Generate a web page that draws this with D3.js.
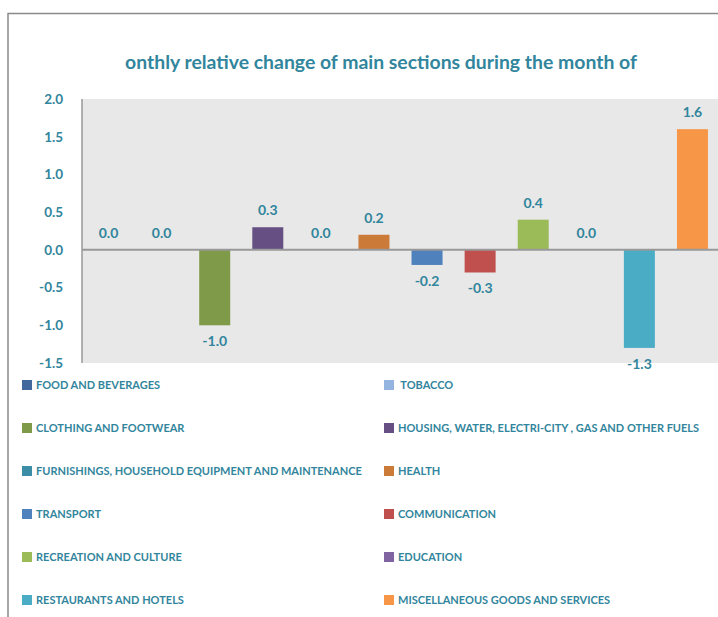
<!DOCTYPE html>
<html>
<head>
<meta charset="utf-8">
<script src="https://cdn.jsdelivr.net/npm/d3@7"></script>
<style>
  body { margin: 0; background: #fff; }
  svg { display: block; font-family: Lato, "Open Sans", sans-serif; }
</style>
</head>
<body>
<div id="chart"></div>
<script>
// Monthly relative change of main sections

const categories = [
    'FOOD AND BEVERAGES',
    ' TOBACCO',
    'CLOTHING AND FOOTWEAR',
    'HOUSING, WATER, ELECTRI-CITY , GAS AND OTHER FUELS',
    'FURNISHINGS, HOUSEHOLD EQUIPMENT AND MAINTENANCE',
    'HEALTH',
    'TRANSPORT',
    'COMMUNICATION',
    'RECREATION AND CULTURE',
    'EDUCATION',
    'RESTAURANTS AND HOTELS',
    'MISCELLANEOUS GOODS AND SERVICES'
];
const values = [0.0, 0.0, -1.0, 0.3, 0.0, 0.2, -0.2, -0.3, 0.4, 0.0, -1.3, 1.6];
const colors = ['#41699d', '#93b5e0', '#7f9a48', '#664f83', '#3b8ea5', '#cc7a38',
    '#4f81bd', '#c0504d', '#9bbb59', '#8064a2', '#4bacc6', '#f79646'];
const yTicks = [2.0, 1.5, 1.0, 0.5, 0.0, -0.5, -1.0, -1.5];
const title = 'onthly relative change of main sections during the month of';

const W = 718, H = 617;
const teal = '#31859c';
const plot = { left: 82, right: 719, top: 99, bottom: 363 };
const fmt = d => d.toFixed(1);   // keep the plain hyphen of the original

const svg = d3.select('#chart').append('svg')
    .attr('width', W)
    .attr('height', H);

// outer frame (only top and left edges are visible)
svg.append('path')
    .attr('d', `M8,${H} V13.5 H${W}`)
    .attr('fill', 'none')
    .attr('stroke', '#8a8a8a')
    .attr('stroke-width', 1.5);

// title
svg.append('text')
    .attr('x', 381)
    .attr('y', 69)
    .attr('text-anchor', 'middle')
    .attr('fill', teal)
    .style('font-size', '19.4px')
    .style('font-weight', 'bold')
    .text(title);

// scales
const x = d3.scaleBand()
    .domain(categories)
    .range([plot.left, plot.right])
    .paddingInner(0.416)
    .paddingOuter(0.208);

const y = d3.scaleLinear()
    .domain([-1.5, 2])
    .range([plot.bottom, plot.top]);

// plot background
svg.append('rect')
    .attr('x', plot.left)
    .attr('y', plot.top)
    .attr('width', plot.right - plot.left)
    .attr('height', plot.bottom - plot.top)
    .attr('fill', '#e8e8e8');

// y axis labels
const yAxis = svg.append('g')
    .attr('transform', `translate(${plot.left},0)`)
    .call(d3.axisLeft(y).tickValues(yTicks).tickFormat(fmt).tickSize(0).tickPadding(19));
yAxis.select('.domain').remove();
yAxis.selectAll('text')
    .attr('fill', teal)
    .style('font-family', 'Lato, "Open Sans", sans-serif')
    .style('font-size', '13.5px')
    .style('font-weight', 'bold');

// bars
svg.selectAll('.bar')
    .data(values)
    .enter().append('rect')
    .attr('class', 'bar')
    .attr('x', (d, i) => x(categories[i]))
    .attr('width', x.bandwidth())
    .attr('y', d => y(Math.max(0, d)))
    .attr('height', d => Math.abs(y(d) - y(0)))
    .attr('fill', (d, i) => colors[i]);

// y axis line and zero line
svg.append('line')
    .attr('x1', plot.left).attr('x2', plot.left)
    .attr('y1', plot.top).attr('y2', plot.bottom)
    .attr('stroke', '#999').attr('stroke-width', 1.5);
svg.append('line')
    .attr('x1', plot.left).attr('x2', plot.right)
    .attr('y1', y(0)).attr('y2', y(0))
    .attr('stroke', '#999').attr('stroke-width', 2);

// value labels
svg.selectAll('.val')
    .data(values)
    .enter().append('text')
    .attr('class', 'val')
    .attr('x', (d, i) => x(categories[i]) + x.bandwidth() / 2)
    .attr('y', d => d < 0 ? y(d) + 21 : y(d) - 12)
    .attr('text-anchor', 'middle')
    .attr('fill', teal)
    .style('font-size', '14px')
    .style('font-weight', 'bold')
    .text(fmt);

// legend, two columns
const legend = svg.append('g');
const items = legend.selectAll('g')
    .data(categories)
    .enter().append('g')
    .attr('transform', (d, i) => `translate(${i % 2 ? 384 : 22},${380 + Math.floor(i / 2) * 43})`);
items.append('rect')
    .attr('width', 10)
    .attr('height', 10)
    .attr('fill', (d, i) => colors[i]);
items.append('text')
    .attr('x', 14)
    .attr('y', 9)
    .attr('fill', teal)
    .style('font-size', '11px')
    .style('font-weight', 'bold')
    .style('white-space', 'pre')
    .text(d => d);
</script>
</body>
</html>
